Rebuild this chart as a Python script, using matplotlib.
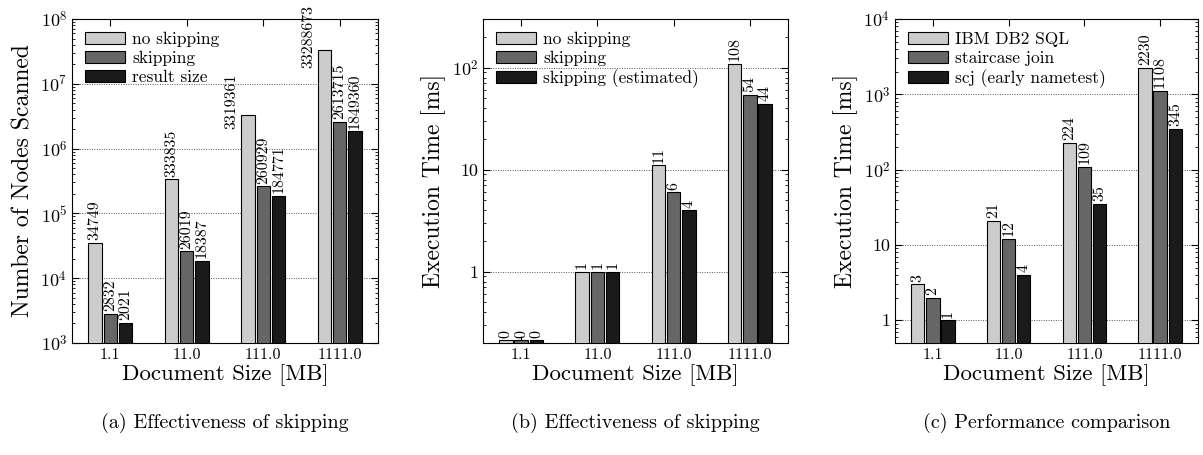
import numpy as np
import matplotlib
matplotlib.use("Agg")
import matplotlib.pyplot as plt
from matplotlib.ticker import FixedLocator, LogLocator, NullFormatter

plt.rcParams['font.family'] = ['cmr10', 'DejaVu Serif']
plt.rcParams['mathtext.fontset'] = 'cm'
plt.rcParams['axes.formatter.use_mathtext'] = True

sizes = ["1.1", "11.0", "111.0", "1111.0"]

# (a) nodes scanned
a_labels = ["no skipping", "skipping", "result size"]
a_noskip = [34749, 333835, 3319361, 33288673]
a_skip = [2832, 26019, 260929, 2613715]
a_result = [2021, 18387, 184771, 1849360]

# (b) execution time
b_labels = ["no skipping", "skipping", "skipping (estimated)"]
b_noskip = [0, 1, 11, 108]
b_skip = [0, 1, 6, 54]
b_est = [0, 1, 4, 44]

# (c) performance comparison
c_labels = ["IBM DB2 SQL", "staircase join", "scj (early nametest)"]
c_db2 = [3, 21, 224, 2230]
c_scj = [2, 12, 109, 1108]
c_early = [1, 4, 35, 345]

colors = ["#cccccc", "#666666", "#1a1a1a"]

fig = plt.figure(figsize=(12.03, 4.55), dpi=100)
W, H = 1203, 455
boxes = [(72, 378), (483, 788), (895, 1198)]
top, bot = 19, 343


def panel(i, series, labels, ylim, yticks, yticklabels, ylabel, caption, side=()):
    l, r = boxes[i]
    ax = fig.add_axes([l / W, 1 - bot / H, (r - l) / W, (bot - top) / H])
    ax.set_yscale('log')
    ax.set_ylim(*ylim)
    x = np.arange(len(sizes))
    w = 0.175
    for k, (vals, lab) in enumerate(zip(series, labels)):
        vals = np.array(vals, dtype=float)
        shown = np.maximum(vals, ylim[0] * 1.06)
        xs = x + (k - 1) * 0.2
        ax.bar(xs, shown, w, color=colors[k], edgecolor='black', linewidth=0.8,
               label=lab, zorder=3)
        for j, (xx, hh, v) in enumerate(zip(xs, shown, vals)):
            if (k, j) in side:
                # long label next to the bar instead of above it
                ax.annotate(f"{int(v)}", (xx - w / 2, hh), xytext=(-7, 10),
                            textcoords='offset points', rotation=90, ha='center',
                            va='center', fontsize=11.5, zorder=4)
            else:
                ax.annotate(f"{int(v)}", (xx, hh), xytext=(0, 2), textcoords='offset points',
                            rotation=90, ha='center', va='bottom', fontsize=11.5, zorder=4)
    ax.set_xlim(-0.5, 3.5)
    ax.set_xticks(x)
    ax.set_xticklabels(sizes, fontsize=11.5)
    ax.yaxis.set_major_locator(FixedLocator(yticks))
    ax.set_yticklabels(yticklabels, fontsize=13)
    ax.yaxis.set_minor_locator(LogLocator(base=10, subs=np.arange(2, 10)))
    ax.yaxis.set_minor_formatter(NullFormatter())
    ax.tick_params(which='both', direction='in', top=True, right=True)
    ax.tick_params(which='major', length=5, width=0.8)
    ax.tick_params(which='minor', length=2.5, width=0.6)
    ax.grid(axis='y', which='major', linestyle=(0, (1, 1.5)), color='#555555',
            linewidth=0.7, zorder=0)
    ax.set_ylabel(ylabel, fontsize=17, labelpad=4)
    ax.set_xlabel("Document Size [MB]", fontsize=16.5, labelpad=2)
    ax.legend(loc='upper left', frameon=False, fontsize=12.5, handlelength=2.3,
              handleheight=0.7, labelspacing=0.2, borderaxespad=0.35, handletextpad=0.4)
    fig.text((l + r) / 2 / W, 1 - 423 / H, caption, ha='center', va='center', fontsize=14.5)
    return ax


panel(0, [a_noskip, a_skip, a_result], a_labels, (1e3, 1e8),
      [1e3, 1e4, 1e5, 1e6, 1e7, 1e8],
      [r"$10^{%d}$" % e for e in range(3, 9)],
      "Number of Nodes Scanned", "(a) Effectiveness of skipping",
      side=[(0, 2), (0, 3)])
panel(1, [b_noskip, b_skip, b_est], b_labels, (0.2, 300),
      [1, 10, 100], ["1", "10", r"$10^{2}$"],
      "Execution Time [ms]", "(b) Effectiveness of skipping")
panel(2, [c_db2, c_scj, c_early], c_labels, (0.5, 1e4),
      [1, 10, 100, 1000, 10000], ["1", "10", r"$10^{2}$", r"$10^{3}$", r"$10^{4}$"],
      "Execution Time [ms]", "(c) Performance comparison")

fig.savefig("out.png", dpi=100)
